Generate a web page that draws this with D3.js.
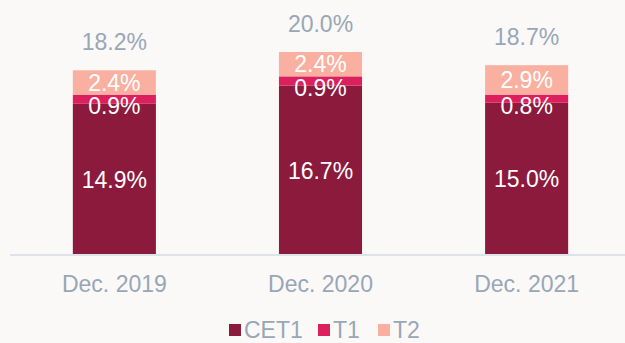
<!DOCTYPE html>
<html>
<head>
<meta charset="utf-8">
<script src="https://cdn.jsdelivr.net/npm/d3@7"></script>
<style>
  html, body { margin: 0; padding: 0; background: #fbf8f8; }
  svg { display: block; font-family: "Liberation Sans", Arial, sans-serif; }
</style>
</head>
<body>
<svg id="chart" width="625" height="343"></svg>
<script>
// Capital ratio composition per year-end
const periods = ["Dec. 2019", "Dec. 2020", "Dec. 2021"];
const tiers = ["CET1", "T1", "T2"];
const cet1 = [14.9, 16.7, 15.0];
const t1 = [0.9, 0.9, 0.8];
const t2 = [2.4, 2.4, 2.9];
const totals = [18.2, 20.0, 18.7];
const tierColors = ["#8b1a3d", "#dc1f5d", "#f9b0a0"];

const rows = periods.map((p, i) => ({ period: p, CET1: cet1[i], T1: t1[i], T2: t2[i], total: totals[i] }));

const svg = d3.select("#chart");
const baseY = 255;
const labelFont = 23;

const x = d3.scaleBand()
  .domain(periods)
  .range([11, 630])
  .paddingInner(0.597)
  .paddingOuter(0.3);

const y = d3.scaleLinear().domain([0, 20]).range([baseY, 52]);
const color = d3.scaleOrdinal().domain(tiers).range(tierColors);

const stacked = d3.stack().keys(tiers)(rows);

// Bars
svg.append("g")
  .selectAll("g")
  .data(stacked)
  .join("g")
  .attr("fill", d => color(d.key))
  .selectAll("rect")
  .data(d => d)
  .join("rect")
  .attr("x", d => x(d.data.period))
  .attr("width", x.bandwidth())
  .attr("y", d => y(d[1]))
  .attr("height", d => y(d[0]) - y(d[1]));

// Segment labels
const segLabels = svg.append("g")
  .attr("fill", "#ffffff")
  .attr("font-size", labelFont)
  .attr("text-anchor", "middle");

stacked.forEach(layer => {
  layer.forEach(d => {
    const val = d.data[layer.key];
    let cy = (y(d[0]) + y(d[1])) / 2;
    if (layer.key === "T1") cy += 7;
    segLabels.append("text")
      .attr("x", x(d.data.period) + x.bandwidth() / 2)
      .attr("y", cy)
      .attr("dy", "0.36em")
      .text(val.toFixed(1) + "%");
  });
});

// Totals above bars
svg.append("g")
  .attr("fill", "#98a7b5")
  .attr("font-size", labelFont)
  .attr("text-anchor", "middle")
  .selectAll("text")
  .data(rows)
  .join("text")
  .attr("x", d => x(d.period) + x.bandwidth() / 2)
  .attr("y", d => y(d.total) - 20)
  .text(d => d.total.toFixed(1) + "%");

// Category axis
const axis = svg.append("g")
  .attr("transform", `translate(0,${baseY})`)
  .call(d3.axisBottom(x).tickSize(0).tickPadding(21));
axis.select(".domain").attr("stroke", "#dde3e8").attr("stroke-width", 2)
  .attr("d", "M10,0H625");
axis.selectAll("text")
  .attr("fill", "#98a7b5")
  .attr("font-size", labelFont)
  .attr("font-family", "Liberation Sans, Arial, sans-serif");

// Legend
const legendItems = [
  { key: "CET1", x: 229 },
  { key: "T1", x: 318 },
  { key: "T2", x: 378 }
];
const legend = svg.append("g").attr("transform", "translate(0,330)");
const li = legend.selectAll("g").data(legendItems).join("g")
  .attr("transform", d => `translate(${d.x},0)`);
li.append("rect")
  .attr("x", 0).attr("y", -6)
  .attr("width", 12).attr("height", 12)
  .attr("fill", d => color(d.key));
li.append("text")
  .attr("x", 15)
  .attr("dy", "0.36em")
  .attr("fill", "#98a7b5")
  .attr("font-size", labelFont)
  .text(d => d.key);
</script>
</body>
</html>
